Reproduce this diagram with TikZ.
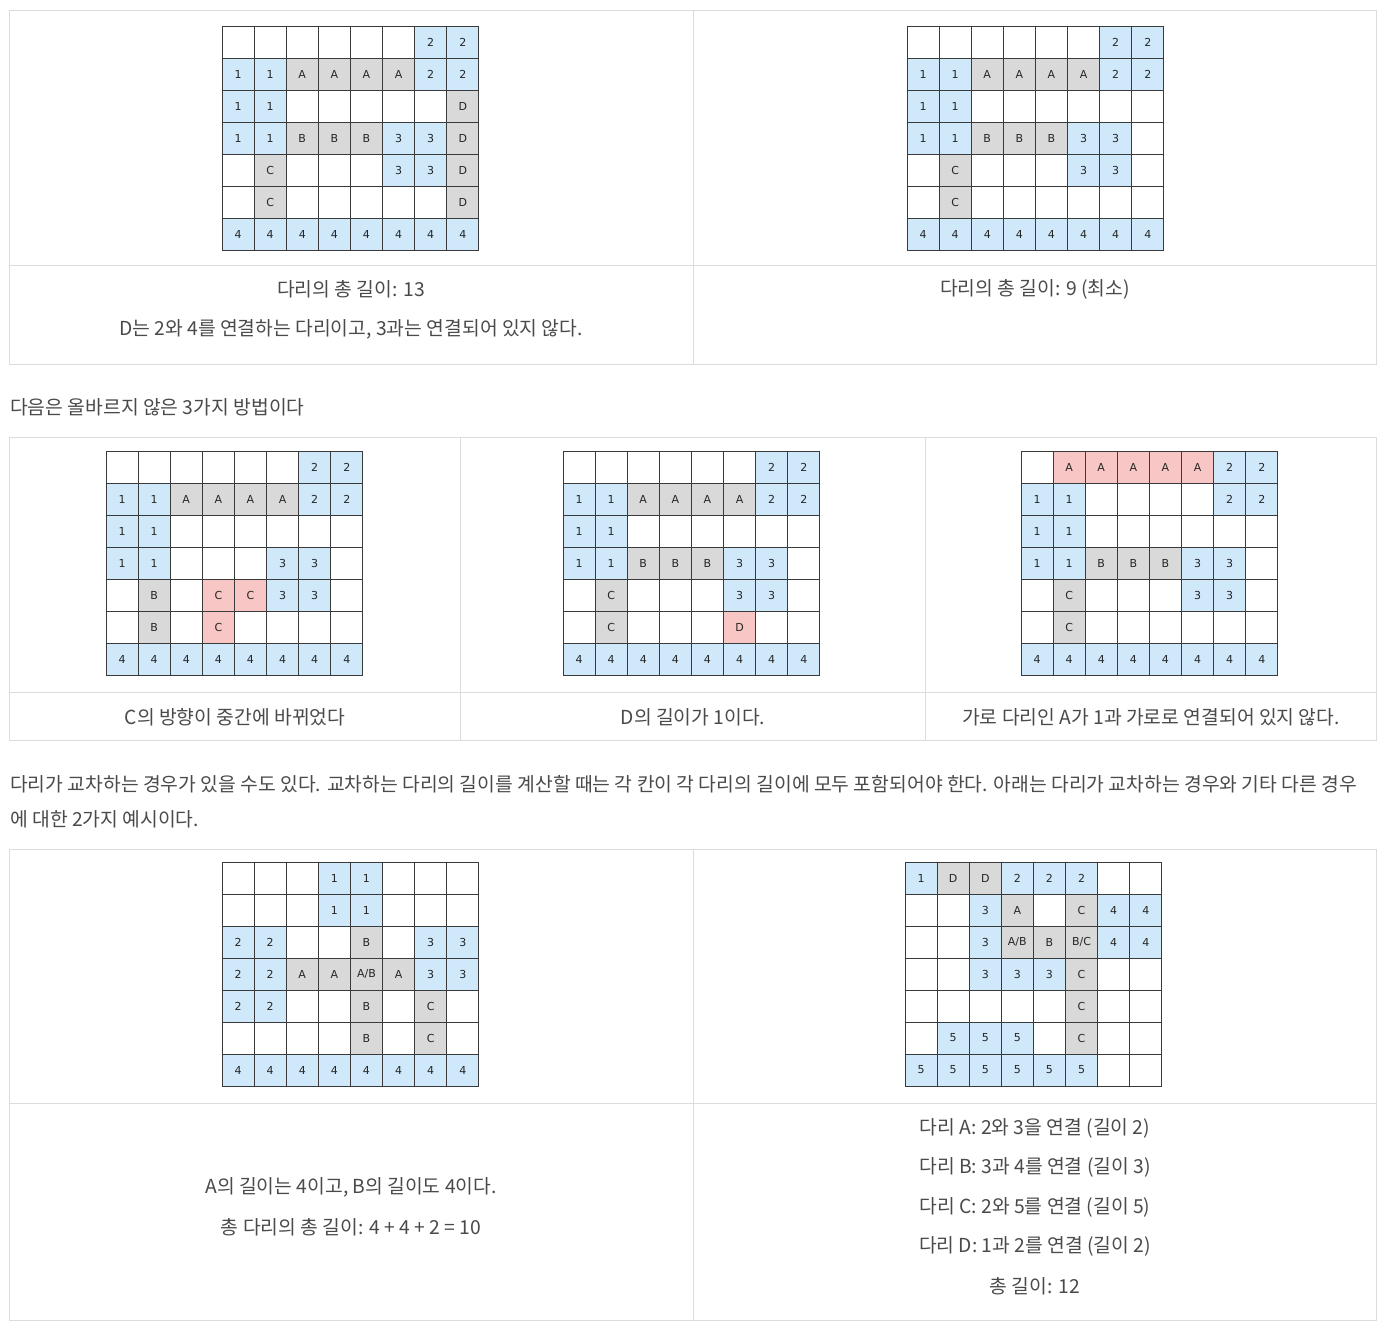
\documentclass[tikz,border=0pt]{standalone}
\usepackage{fontspec}
\setmainfont{Noto Sans CJK KR}
\newfontfamily\cellfont{DejaVu Sans}
\definecolor{cblue}{HTML}{CFE8FA}
\definecolor{cgray}{HTML}{D9D9D9}
\definecolor{cred}{HTML}{F9C6C6}
\definecolor{gline}{HTML}{3A3A3A}
\definecolor{tline}{HTML}{DCDCDC}
\definecolor{txt}{HTML}{4A4A4A}
\tikzset{
  gl/.style={draw=gline, line width=0.9pt},
  tb/.style={draw=tline, line width=1pt},
  cellnum/.style={inner sep=0pt, font=\cellfont\fontsize{11}{13}\selectfont, text=black!85},
  captxt/.style={inner sep=0pt, font=\fontsize{19.3}{22}\selectfont, text=txt},
  paratxt/.style={inner sep=0pt, anchor=west, font=\fontsize{19.3}{22}\selectfont, text=txt},
}
\newcommand{\bgrid}[4]{%
  \begin{scope}[shift={(#2,#3)}]
    \foreach \c/\r/\f/\t in {#4} {
      \fill[\f] (\c*32.1,\r*32) rectangle ++(32.1,32);
      \node[cellnum] (#1-\c-\r) at (\c*32.1+16.05,\r*32+16) {\t};
    }
    \foreach \i in {0,...,8} \draw[gl] (\i*32.1,0) -- (\i*32.1,224);
    \foreach \j in {0,...,7} \draw[gl] (0,\j*32) -- (256.8,\j*32);
  \end{scope}}
\begin{document}
\begin{tikzpicture}[x=1pt,y=-1pt]
\useasboundingbox[fill=white] (0,0) rectangle (1387,1330);
% ---------- table 1
\draw[tb] (9.5,10.5) rectangle (1376.5,364.5);
\draw[tb] (693.5,10.5) -- (693.5,364.5);
\draw[tb] (9.5,265.5) -- (1376.5,265.5);
\bgrid{ga}{222}{26}{6/0/cblue/2,7/0/cblue/2,
 0/1/cblue/1,1/1/cblue/1,2/1/cgray/A,3/1/cgray/A,4/1/cgray/A,5/1/cgray/A,6/1/cblue/2,7/1/cblue/2,
 0/2/cblue/1,1/2/cblue/1,7/2/cgray/D,
 0/3/cblue/1,1/3/cblue/1,2/3/cgray/B,3/3/cgray/B,4/3/cgray/B,5/3/cblue/3,6/3/cblue/3,7/3/cgray/D,
 1/4/cgray/C,5/4/cblue/3,6/4/cblue/3,7/4/cgray/D,
 1/5/cgray/C,7/5/cgray/D,
 0/6/cblue/4,1/6/cblue/4,2/6/cblue/4,3/6/cblue/4,4/6/cblue/4,5/6/cblue/4,6/6/cblue/4,7/6/cblue/4}
\bgrid{gb}{907}{26}{6/0/cblue/2,7/0/cblue/2,
 0/1/cblue/1,1/1/cblue/1,2/1/cgray/A,3/1/cgray/A,4/1/cgray/A,5/1/cgray/A,6/1/cblue/2,7/1/cblue/2,
 0/2/cblue/1,1/2/cblue/1,
 0/3/cblue/1,1/3/cblue/1,2/3/cgray/B,3/3/cgray/B,4/3/cgray/B,5/3/cblue/3,6/3/cblue/3,
 1/4/cgray/C,5/4/cblue/3,6/4/cblue/3,
 1/5/cgray/C,
 0/6/cblue/4,1/6/cblue/4,2/6/cblue/4,3/6/cblue/4,4/6/cblue/4,5/6/cblue/4,6/6/cblue/4,7/6/cblue/4}
\node[captxt] (c1a) at (351,289) {다리의 총 길이: 13};
\node[captxt] (c1b) at (351,329) {D는 2와 4를 연결하는 다리이고, 3과는 연결되어 있지 않다.};
\node[captxt] (c2a) at (1035,289) {다리의 총 길이: 9 (최소)};
% ---------- text
\node[paratxt] (p1) at (10,407) {다음은 올바르지 않은 3가지 방법이다};
% ---------- table 2
\draw[tb] (9.5,437.5) rectangle (1376.5,740.5);
\draw[tb] (460.5,437.5) -- (460.5,740.5);
\draw[tb] (925.5,437.5) -- (925.5,740.5);
\draw[tb] (9.5,692.5) -- (1376.5,692.5);
\bgrid{gc}{106}{451}{6/0/cblue/2,7/0/cblue/2,
 0/1/cblue/1,1/1/cblue/1,2/1/cgray/A,3/1/cgray/A,4/1/cgray/A,5/1/cgray/A,6/1/cblue/2,7/1/cblue/2,
 0/2/cblue/1,1/2/cblue/1,
 0/3/cblue/1,1/3/cblue/1,5/3/cblue/3,6/3/cblue/3,
 1/4/cgray/B,3/4/cred/C,4/4/cred/C,5/4/cblue/3,6/4/cblue/3,
 1/5/cgray/B,3/5/cred/C,
 0/6/cblue/4,1/6/cblue/4,2/6/cblue/4,3/6/cblue/4,4/6/cblue/4,5/6/cblue/4,6/6/cblue/4,7/6/cblue/4}
\bgrid{gd}{563}{451}{6/0/cblue/2,7/0/cblue/2,
 0/1/cblue/1,1/1/cblue/1,2/1/cgray/A,3/1/cgray/A,4/1/cgray/A,5/1/cgray/A,6/1/cblue/2,7/1/cblue/2,
 0/2/cblue/1,1/2/cblue/1,
 0/3/cblue/1,1/3/cblue/1,2/3/cgray/B,3/3/cgray/B,4/3/cgray/B,5/3/cblue/3,6/3/cblue/3,
 1/4/cgray/C,5/4/cblue/3,6/4/cblue/3,
 1/5/cgray/C,5/5/cred/D,
 0/6/cblue/4,1/6/cblue/4,2/6/cblue/4,3/6/cblue/4,4/6/cblue/4,5/6/cblue/4,6/6/cblue/4,7/6/cblue/4}
\bgrid{ge}{1021}{451}{1/0/cred/A,2/0/cred/A,3/0/cred/A,4/0/cred/A,5/0/cred/A,6/0/cblue/2,7/0/cblue/2,
 0/1/cblue/1,1/1/cblue/1,6/1/cblue/2,7/1/cblue/2,
 0/2/cblue/1,1/2/cblue/1,
 0/3/cblue/1,1/3/cblue/1,2/3/cgray/B,3/3/cgray/B,4/3/cgray/B,5/3/cblue/3,6/3/cblue/3,
 1/4/cgray/C,5/4/cblue/3,6/4/cblue/3,
 1/5/cgray/C,
 0/6/cblue/4,1/6/cblue/4,2/6/cblue/4,3/6/cblue/4,4/6/cblue/4,5/6/cblue/4,6/6/cblue/4,7/6/cblue/4}
\node[captxt] (c3) at (235,717) {C의 방향이 중간에 바뀌었다};
\node[captxt] (c4) at (693,717) {D의 길이가 1이다.};
\node[captxt] (c5) at (1151,717) {가로 다리인 A가 1과 가로로 연결되어 있지 않다.};
% ---------- paragraph
\node[paratxt] (p2) at (10,784) {다리가 교차하는 경우가 있을 수도 있다. 교차하는 다리의 길이를 계산할 때는 각 칸이 각 다리의 길이에 모두 포함되어야 한다. 아래는 다리가 교차하는 경우와 기타 다른 경우};
\node[paratxt] (p3) at (10,819) {에 대한 2가지 예시이다.};
% ---------- table 3
\draw[tb] (9.5,849.5) rectangle (1376.5,1320.5);
\draw[tb] (693.5,849.5) -- (693.5,1320.5);
\draw[tb] (9.5,1103.5) -- (1376.5,1103.5);
\bgrid{gf}{222}{862}{3/0/cblue/1,4/0/cblue/1,
 3/1/cblue/1,4/1/cblue/1,
 0/2/cblue/2,1/2/cblue/2,4/2/cgray/B,6/2/cblue/3,7/2/cblue/3,
 0/3/cblue/2,1/3/cblue/2,2/3/cgray/A,3/3/cgray/A,4/3/cgray/A\slash B,5/3/cgray/A,6/3/cblue/3,7/3/cblue/3,
 0/4/cblue/2,1/4/cblue/2,4/4/cgray/B,6/4/cgray/C,
 4/5/cgray/B,6/5/cgray/C,
 0/6/cblue/4,1/6/cblue/4,2/6/cblue/4,3/6/cblue/4,4/6/cblue/4,5/6/cblue/4,6/6/cblue/4,7/6/cblue/4}
\bgrid{gg}{905}{862}{0/0/cblue/1,1/0/cgray/D,2/0/cgray/D,3/0/cblue/2,4/0/cblue/2,5/0/cblue/2,
 2/1/cblue/3,3/1/cgray/A,5/1/cgray/C,6/1/cblue/4,7/1/cblue/4,
 2/2/cblue/3,3/2/cgray/A\slash B,4/2/cgray/B,5/2/cgray/B\slash C,6/2/cblue/4,7/2/cblue/4,
 2/3/cblue/3,3/3/cblue/3,4/3/cblue/3,5/3/cgray/C,
 5/4/cgray/C,
 1/5/cblue/5,2/5/cblue/5,3/5/cblue/5,5/5/cgray/C,
 0/6/cblue/5,1/6/cblue/5,2/6/cblue/5,3/6/cblue/5,4/6/cblue/5,5/6/cblue/5}
\node[captxt] (c6a) at (351,1187) {A의 길이는 4이고, B의 길이도 4이다.};
\node[captxt] (c6b) at (351,1227) {총 다리의 총 길이: 4 + 4 + 2 = 10};
\node[captxt] (c7a) at (1035,1128) {다리 A: 2와 3을 연결 (길이 2)};
\node[captxt] (c7b) at (1035,1167) {다리 B: 3과 4를 연결 (길이 3)};
\node[captxt] (c7c) at (1035,1207) {다리 C: 2와 5를 연결 (길이 5)};
\node[captxt] (c7d) at (1035,1246) {다리 D: 1과 2를 연결 (길이 2)};
\node[captxt] (c7e) at (1035,1286) {총 길이: 12};
\end{tikzpicture}
\end{document}
